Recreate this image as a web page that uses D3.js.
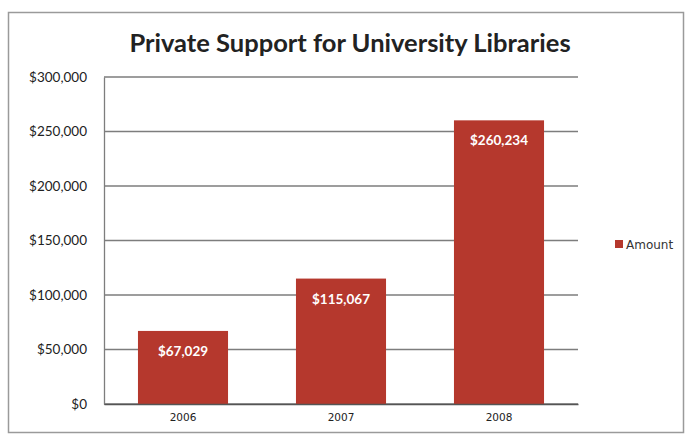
<!DOCTYPE html>
<html lang="en">
<head>
<meta charset="UTF-8" />
<title>Private Support for University Libraries</title>
<style>
  body { margin: 0; background: #fff; }
</style>
</head>
<body>
<div id="chart"></div>
<script src="https://d3js.org/d3.v7.min.js"></script>
<script>
const width = 687;
const height = 438;

const years = ["2006", "2007", "2008"];
const amounts = [67029, 115067, 260234];
const yTicks = [0, 50000, 100000, 150000, 200000, 250000, 300000];
const seriesName = "Amount";

const margin = { top: 77, right: 109, bottom: 34, left: 104 };
const barColor = "#b5382d";

const svg = d3.select("#chart")
  .append("svg")
  .attr("width", width)
  .attr("height", height);

// outer frame of the chart
svg.append("rect")
  .attr("x", 8.5).attr("y", 12.5)
  .attr("width", width - 12).attr("height", 420)
  .attr("fill", "#fff")
  .attr("stroke", "#9a9a9a")
  .attr("stroke-width", 1.5);

svg.append("text")
  .attr("x", 350).attr("y", 52)
  .attr("text-anchor", "middle")
  .style("font-family", "Lato, 'Open Sans', sans-serif")
  .style("font-weight", "bold")
  .style("font-size", "25.5px")
  .attr("fill", "#222")
  .text("Private Support for University Libraries");

const x = d3.scaleBand()
  .domain(years)
  .range([margin.left, width - margin.right])
  .paddingInner(0.43)
  .paddingOuter(0.215);

const y = d3.scaleLinear()
  .domain([0, 300000])
  .range([height - margin.bottom, margin.top]);

// gridlines
svg.append("g")
  .selectAll("line")
  .data(yTicks)
  .join("line")
  .attr("x1", margin.left).attr("x2", width - margin.right)
  .attr("y1", d => y(d)).attr("y2", d => y(d))
  .attr("stroke", "#7d7d7d")
  .attr("stroke-width", 1.3);

// y axis
const yAxis = svg.append("g")
  .attr("transform", `translate(${margin.left},0)`)
  .call(d3.axisLeft(y).tickValues(yTicks).tickSize(0).tickPadding(17)
    .tickFormat(d => "$" + d3.format(",")(d)));
yAxis.select(".domain").attr("stroke", "#7d7d7d").attr("stroke-width", 1.3);
yAxis.selectAll("text")
  .style("font-family", "Lato, 'Open Sans', sans-serif")
  .style("font-size", "13.5px")
  .attr("fill", "#222");

// bars
svg.append("g")
  .selectAll("rect")
  .data(amounts)
  .join("rect")
  .attr("x", (d, i) => x(years[i]))
  .attr("y", d => y(d))
  .attr("width", x.bandwidth())
  .attr("height", d => y(0) - y(d))
  .attr("fill", barColor);

// value labels
svg.append("g")
  .selectAll("text")
  .data(amounts)
  .join("text")
  .attr("x", (d, i) => x(years[i]) + x.bandwidth() / 2)
  .attr("y", d => y(d) + 25)
  .attr("text-anchor", "middle")
  .style("font-family", "Lato, 'Open Sans', sans-serif")
  .style("font-weight", "bold")
  .style("font-size", "13.5px")
  .attr("fill", "#fff")
  .text(d => "$" + d3.format(",")(d));

// x axis
const xAxis = svg.append("g")
  .attr("transform", `translate(0,${height - margin.bottom})`)
  .call(d3.axisBottom(x).tickSize(0).tickPadding(10));
xAxis.select(".domain").attr("stroke", "#555").attr("stroke-width", 1.5);
xAxis.selectAll("text")
  .style("font-family", "'DejaVu Sans', sans-serif")
  .style("font-size", "10.5px")
  .attr("fill", "#222");

// legend
const legend = svg.append("g").attr("transform", "translate(615,240)");
legend.append("rect")
  .attr("width", 8).attr("height", 8)
  .attr("fill", barColor);
legend.append("text")
  .attr("x", 11).attr("y", 9)
  .style("font-family", "'DejaVu Sans', sans-serif")
  .style("font-size", "12px")
  .attr("fill", "#333")
  .text(seriesName);
</script>
</body>
</html>
